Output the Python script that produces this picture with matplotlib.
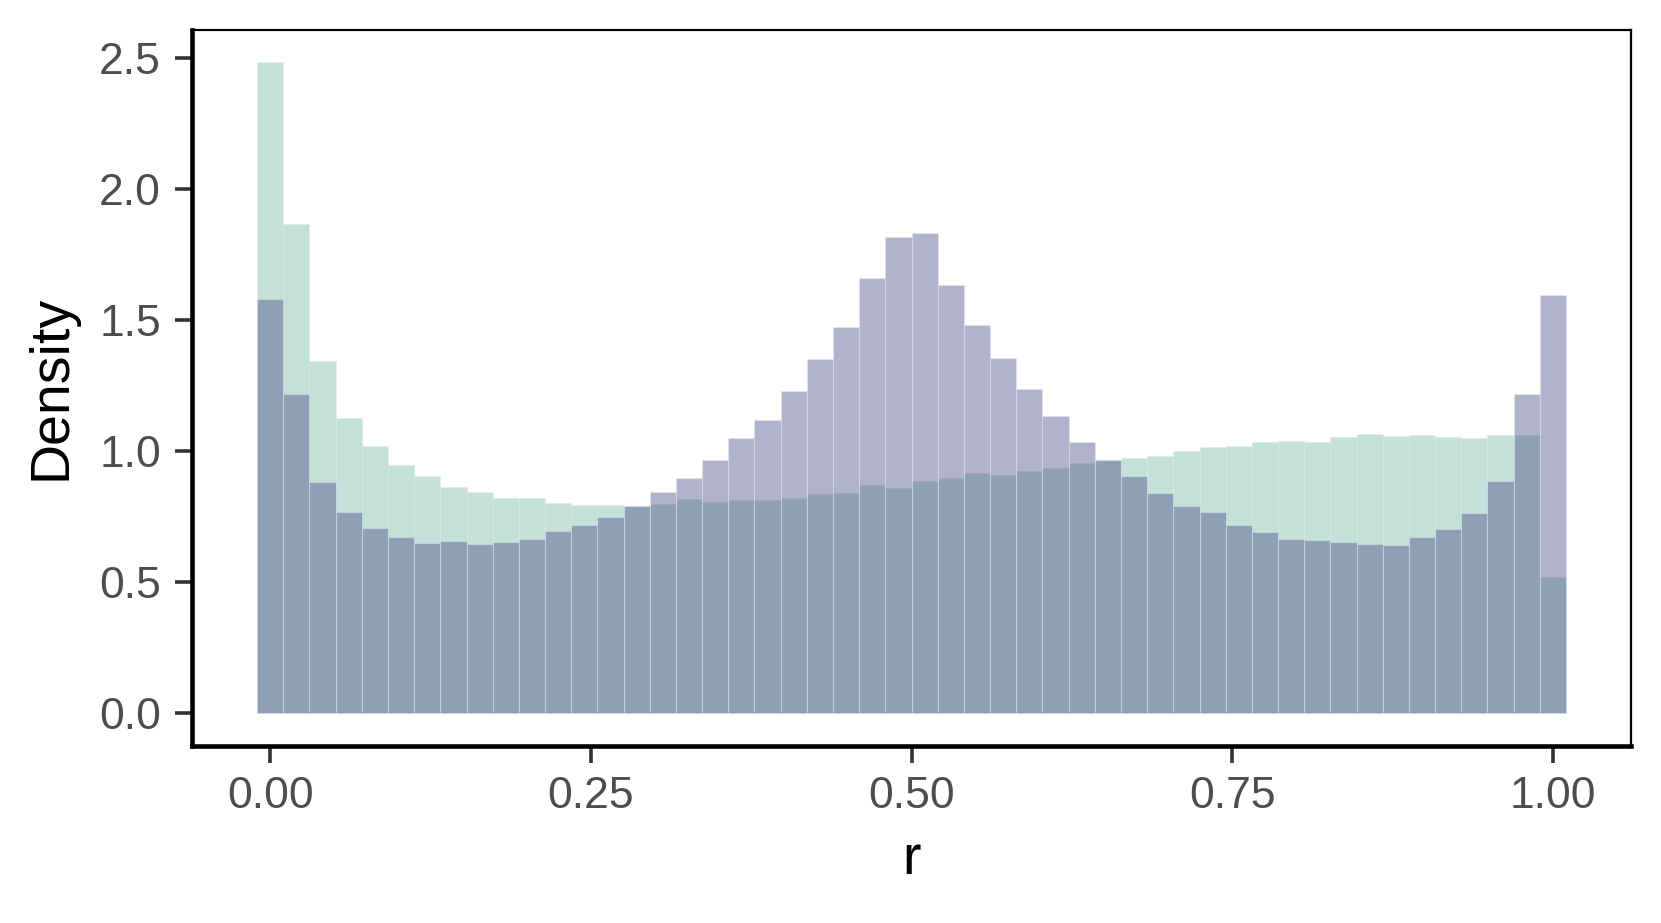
import numpy as np
import matplotlib
matplotlib.use("Agg")
import matplotlib.pyplot as plt

plt.rcParams['font.family'] = ['Liberation Sans', 'DejaVu Sans']

# 50 bins centred on k/49, k = 0..49 (ggplot bins=50 on [0, 1])
n_bins = 50
centers = np.arange(n_bins) / (n_bins - 1)
bin_width = 1 / (n_bins - 1)

# density per bin
green = [2.485, 1.869, 1.344, 1.126, 1.020, 0.949, 0.905, 0.864, 0.844, 0.823,
         0.823, 0.801, 0.796, 0.796, 0.790, 0.797, 0.817, 0.805, 0.815, 0.815,
         0.822, 0.837, 0.840, 0.872, 0.859, 0.886, 0.897, 0.917, 0.908, 0.923,
         0.936, 0.956, 0.966, 0.975, 0.980, 1.002, 1.015, 1.020, 1.037, 1.040,
         1.036, 1.055, 1.067, 1.060, 1.062, 1.055, 1.050, 1.063, 1.062, 0.518]
purple = [1.583, 1.219, 0.883, 0.769, 0.707, 0.673, 0.650, 0.656, 0.646, 0.653,
          0.663, 0.694, 0.718, 0.747, 0.790, 0.846, 0.898, 0.965, 1.049, 1.119,
          1.230, 1.351, 1.476, 1.663, 1.818, 1.832, 1.636, 1.480, 1.357, 1.239,
          1.136, 1.036, 0.968, 0.907, 0.841, 0.791, 0.767, 0.717, 0.693, 0.663,
          0.662, 0.654, 0.646, 0.641, 0.673, 0.703, 0.766, 0.885, 1.217, 1.597]

fig = plt.figure(figsize=(16.61, 9.23), dpi=100)
ax = fig.add_axes([0.1154, 0.1921, 0.9822 - 0.1154, 0.9678 - 0.1921])

ax.bar(centers, green, width=bin_width, color="#69b3a2", alpha=0.4,
       edgecolor="#e9ecef", linewidth=0.8)
ax.bar(centers, purple, width=bin_width, color="#404080", alpha=0.4,
       edgecolor="#e9ecef", linewidth=0.8)

lo, hi = centers[0] - bin_width / 2, centers[-1] + bin_width / 2
pad = 0.05 * (hi - lo)
ax.set_xlim(lo - pad, hi + pad)
top = max(max(green), max(purple))
ax.set_ylim(-0.05 * top, 1.05 * top)

ax.set_xticks([0, 0.25, 0.5, 0.75, 1.0])
ax.set_xticklabels(["0.00", "0.25", "0.50", "0.75", "1.00"])
ax.set_yticks([0, 0.5, 1.0, 1.5, 2.0, 2.5])
ax.set_yticklabels(["0.0", "0.5", "1.0", "1.5", "2.0", "2.5"])

ax.tick_params(axis="both", direction="out", length=12, width=2.6,
               color="#333333", labelsize=32, labelcolor="#4D4D4D")
ax.tick_params(axis="x", pad=10)
ax.tick_params(axis="y", pad=10)

for side in ["left", "bottom"]:
    ax.spines[side].set_linewidth(3.3)
for side in ["top", "right"]:
    ax.spines[side].set_linewidth(1.6)
for s in ax.spines.values():
    s.set_color("black")

ax.set_xlabel("r", fontsize=40, labelpad=12)
ax.set_ylabel("Density", fontsize=40, labelpad=16)

fig.savefig("out.png", dpi=100)
